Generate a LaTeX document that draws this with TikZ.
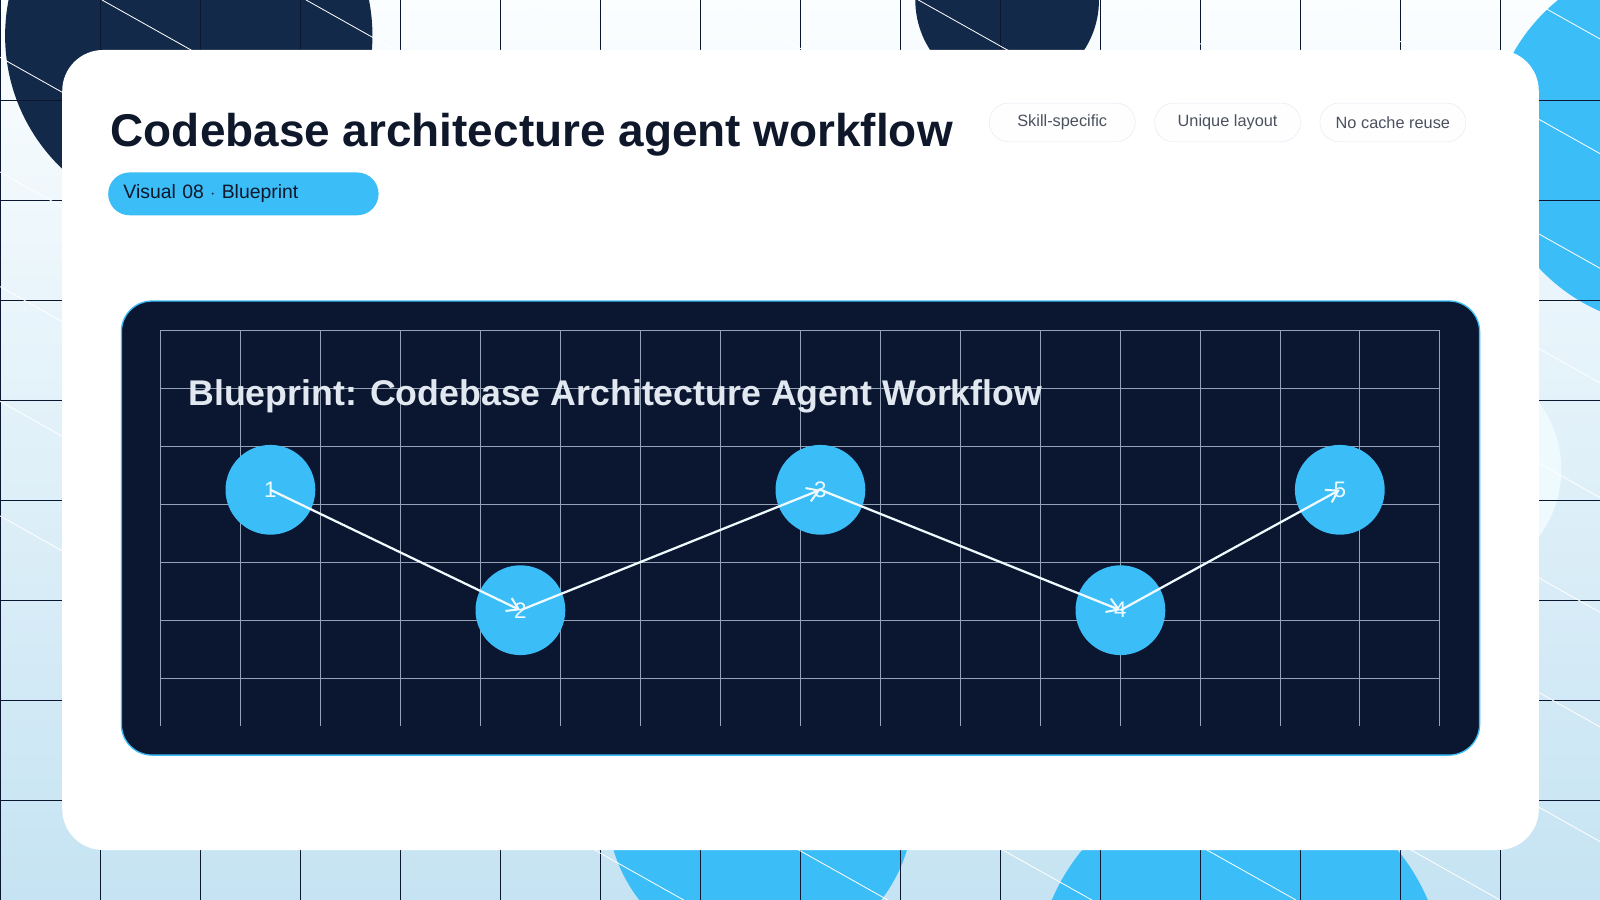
\documentclass[tikz,border=0pt]{standalone}
\usepackage{fontspec}
\setmainfont{Liberation Sans}
\usetikzlibrary{arrows.meta}
\definecolor{navy}{HTML}{0B1630}
\definecolor{deepnavy}{HTML}{12294A}
\definecolor{sky}{HTML}{3BBDF8}
\definecolor{ink}{HTML}{0F172A}
\definecolor{chipline}{HTML}{E2E8F0}
\definecolor{gridline}{HTML}{94A3B8}
\tikzset{
  chip/.style={draw=chipline,fill=white!97!chipline,rounded corners=19pt,minimum width=143pt,minimum height=38pt,text=ink!75,font=\fontsize{16}{18}\selectfont},
  stepdot/.style={circle,fill=sky,minimum size=88pt,inner sep=0pt,text=white!92!sky,font=\fontsize{22}{24}\selectfont},
  flow/.style={draw=white!92!sky,line width=2.2pt,-{Straight Barb[length=11pt,width=14pt,line width=2pt]}}
}
\begin{document}
\begin{tikzpicture}[x=1pt,y=-1pt]
\useasboundingbox (0,0) rectangle (1568,882);
\shade[top color=white!95!sky!40,bottom color=sky!25!white!85!gridline] (0,0) rectangle (1568,882);
\begin{scope}
\clip (0,0) rectangle (1568,882);
% background blobs
\fill[deepnavy] (185,35) circle (180);
\fill[deepnavy] (987,0) circle (90);
\fill[sky] (1640,140) circle (180);
\fill[sky] (745,790) circle (150);
\fill[sky] (1215,960) circle (200);
\fill[white!92!sky] (1420,460) circle (110);
\foreach \x in {0,98,...,1568} \draw[navy,line width=0.8pt] (\x,0) -- (\x,882);
\foreach \y in {98,196,...,882} \draw[navy,line width=0.8pt] (0,\y) -- (1568,\y);
\foreach \x in {-900,-700,...,1600} \draw[white,line width=0.8pt] (\x,0) -- ++(1570,882);
\end{scope}
% card
\fill[white,rounded corners=40pt] (61,49) rectangle (1508,833);
\node[anchor=base west,text=ink,font=\fontsize{45}{50}\selectfont\bfseries] (title) at (105,144) {Codebase architecture agent workflow};
\node[chip] (chipa) at (1041,120) {Skill-specific};
\node[chip] (chipb) at (1203,120) {Unique layout};
\node[chip] (chipc) at (1365,120) {No cache reuse};
\node[fill=sky,rounded corners=21pt,minimum width=265pt,minimum height=42pt,text=ink,font=\fontsize{19}{22}\selectfont,text width=235pt] (badge) at (238.5,190) {Visual 08 $\cdot$ Blueprint};
% blueprint panel
\draw[fill=navy,draw=sky,line width=1.3pt,rounded corners=30pt] (119,295) rectangle (1450,740);
\foreach \i in {0,...,16} \draw[gridline,line width=0.7pt] (157+78.375*\i,324) -- (157+78.375*\i,711);
\foreach \j in {0,...,6} \draw[gridline,line width=0.7pt] (157,324+56.8*\j) -- (1411,324+56.8*\j);
\node[anchor=base west,text=chipline,font=\fontsize{35}{40}\selectfont\bfseries] (bptitle) at (181,397) {Blueprint: Codebase Architecture Agent Workflow};
\node[stepdot] (s1) at (265,480) {1};
\node[stepdot] (s2) at (510,598) {2};
\node[stepdot] (s3) at (804,480) {3};
\node[stepdot] (s4) at (1098,598) {4};
\node[stepdot] (s5) at (1313,480) {5};
\draw[flow] (s1.center) -- (s2.center);
\draw[flow] (s2.center) -- (s3.center);
\draw[flow] (s3.center) -- (s4.center);
\draw[flow] (s4.center) -- (s5.center);
\end{tikzpicture}
\end{document}
